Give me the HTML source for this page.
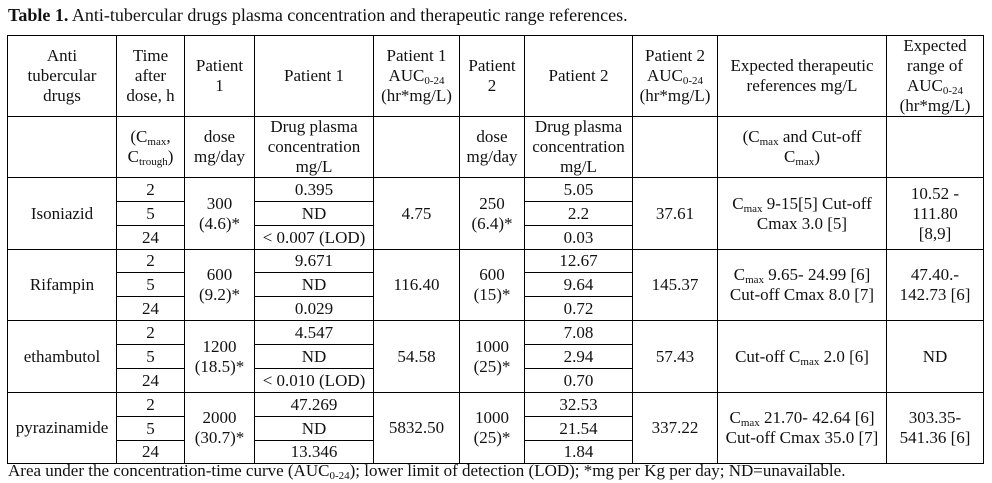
<!DOCTYPE html>
<html><head><meta charset="utf-8">
<style>
html,body{margin:0;padding:0;background:#fff;}
body{width:992px;height:483px;position:relative;overflow:hidden;font-family:"Liberation Serif",serif;color:#111;}
#title{position:absolute;left:8px;top:4px;font-size:18px;line-height:22px;white-space:nowrap;}
#note{position:absolute;left:8px;top:461px;font-size:17px;line-height:20px;white-space:nowrap;}
table{position:absolute;left:7px;top:35px;border-collapse:collapse;table-layout:fixed;font-size:17px;line-height:20px;}
td{border:1px solid #000;padding:0;text-align:center;vertical-align:middle;overflow:hidden;white-space:nowrap;}
sub{font-size:11px;line-height:0;vertical-align:-3px;}
.d td{line-height:20px;}
</style></head><body>
<div id="title"><b>Table 1.</b> Anti-tubercular drugs plasma concentration and therapeutic range references.</div>
<table>
<colgroup><col style="width:109px"><col style="width:68px"><col style="width:70px"><col style="width:119px"><col style="width:86px"><col style="width:65px"><col style="width:108px"><col style="width:85px"><col style="width:169px"><col style="width:97px"></colgroup>
<tr style="height:78px">
<td>Anti<br>tubercular<br>drugs</td>
<td>Time<br>after<br>dose, h</td>
<td>Patient<br>1</td>
<td>Patient 1</td>
<td>Patient 1<br>AUC<sub>0-24</sub><br>(hr*mg/L)</td>
<td>Patient<br>2</td>
<td>Patient 2</td>
<td>Patient 2<br>AUC<sub>0-24</sub><br>(hr*mg/L)</td>
<td>Expected therapeutic<br>references mg/L</td>
<td>Expected<br>range of<br>AUC<sub>0-24</sub><br>(hr*mg/L)</td>
</tr>
<tr style="height:57px">
<td></td>
<td>(C<sub>max</sub>,<br>C<sub>trough</sub>)</td>
<td>dose<br>mg/day</td>
<td>Drug plasma<br>concentration<br>mg/L</td>
<td></td>
<td>dose<br>mg/day</td>
<td>Drug plasma<br>concentration<br>mg/L</td>
<td></td>
<td>(C<sub>max</sub> and Cut-off<br>C<sub>max</sub>)</td>
<td></td>
</tr>
<tr class="d" style="height:24px">
<td rowspan="3">Isoniazid</td><td>2</td><td rowspan="3">300<br>(4.6)*</td><td>0.395</td><td rowspan="3">4.75</td><td rowspan="3">250<br>(6.4)*</td><td>5.05</td><td rowspan="3">37.61</td><td rowspan="3">C<sub>max</sub> 9-15[5] Cut-off<br>Cmax 3.0 [5]</td><td rowspan="3">10.52 -<br>111.80<br>[8,9]</td></tr>
<tr class="d" style="height:24px"><td>5</td><td>ND</td><td>2.2</td></tr>
<tr class="d" style="height:24px"><td>24</td><td>&lt; 0.007 (LOD)</td><td>0.03</td></tr>
<tr class="d" style="height:23px">
<td rowspan="3">Rifampin</td><td>2</td><td rowspan="3">600<br>(9.2)*</td><td>9.671</td><td rowspan="3">116.40</td><td rowspan="3">600<br>(15)*</td><td>12.67</td><td rowspan="3">145.37</td><td rowspan="3">C<sub>max</sub> 9.65- 24.99 [6]<br>Cut-off Cmax 8.0 [7]</td><td rowspan="3">47.40.-<br>142.73 [6]</td></tr>
<tr class="d" style="height:24px"><td>5</td><td>ND</td><td>9.64</td></tr>
<tr class="d" style="height:24px"><td>24</td><td>0.029</td><td>0.72</td></tr>
<tr class="d" style="height:24px">
<td rowspan="3">ethambutol</td><td>2</td><td rowspan="3">1200<br>(18.5)*</td><td>4.547</td><td rowspan="3">54.58</td><td rowspan="3">1000<br>(25)*</td><td>7.08</td><td rowspan="3">57.43</td><td rowspan="3">Cut-off C<sub>max</sub> 2.0 [6]</td><td rowspan="3">ND</td></tr>
<tr class="d" style="height:24px"><td>5</td><td>ND</td><td>2.94</td></tr>
<tr class="d" style="height:24px"><td>24</td><td>&lt; 0.010 (LOD)</td><td>0.70</td></tr>
<tr class="d" style="height:24px">
<td rowspan="3">pyrazinamide</td><td>2</td><td rowspan="3">2000<br>(30.7)*</td><td>47.269</td><td rowspan="3">5832.50</td><td rowspan="3">1000<br>(25)*</td><td>32.53</td><td rowspan="3">337.22</td><td rowspan="3">C<sub>max</sub> 21.70- 42.64 [6]<br>Cut-off Cmax 35.0 [7]</td><td rowspan="3">303.35-<br>541.36 [6]</td></tr>
<tr class="d" style="height:24px"><td>5</td><td>ND</td><td>21.54</td></tr>
<tr class="d" style="height:23px"><td>24</td><td>13.346</td><td>1.84</td></tr>
</table>
<div id="note">Area under the concentration-time curve (AUC<sub>0-24</sub>); lower limit of detection (LOD); *mg per Kg per day; ND=unavailable.</div>
</body></html>
